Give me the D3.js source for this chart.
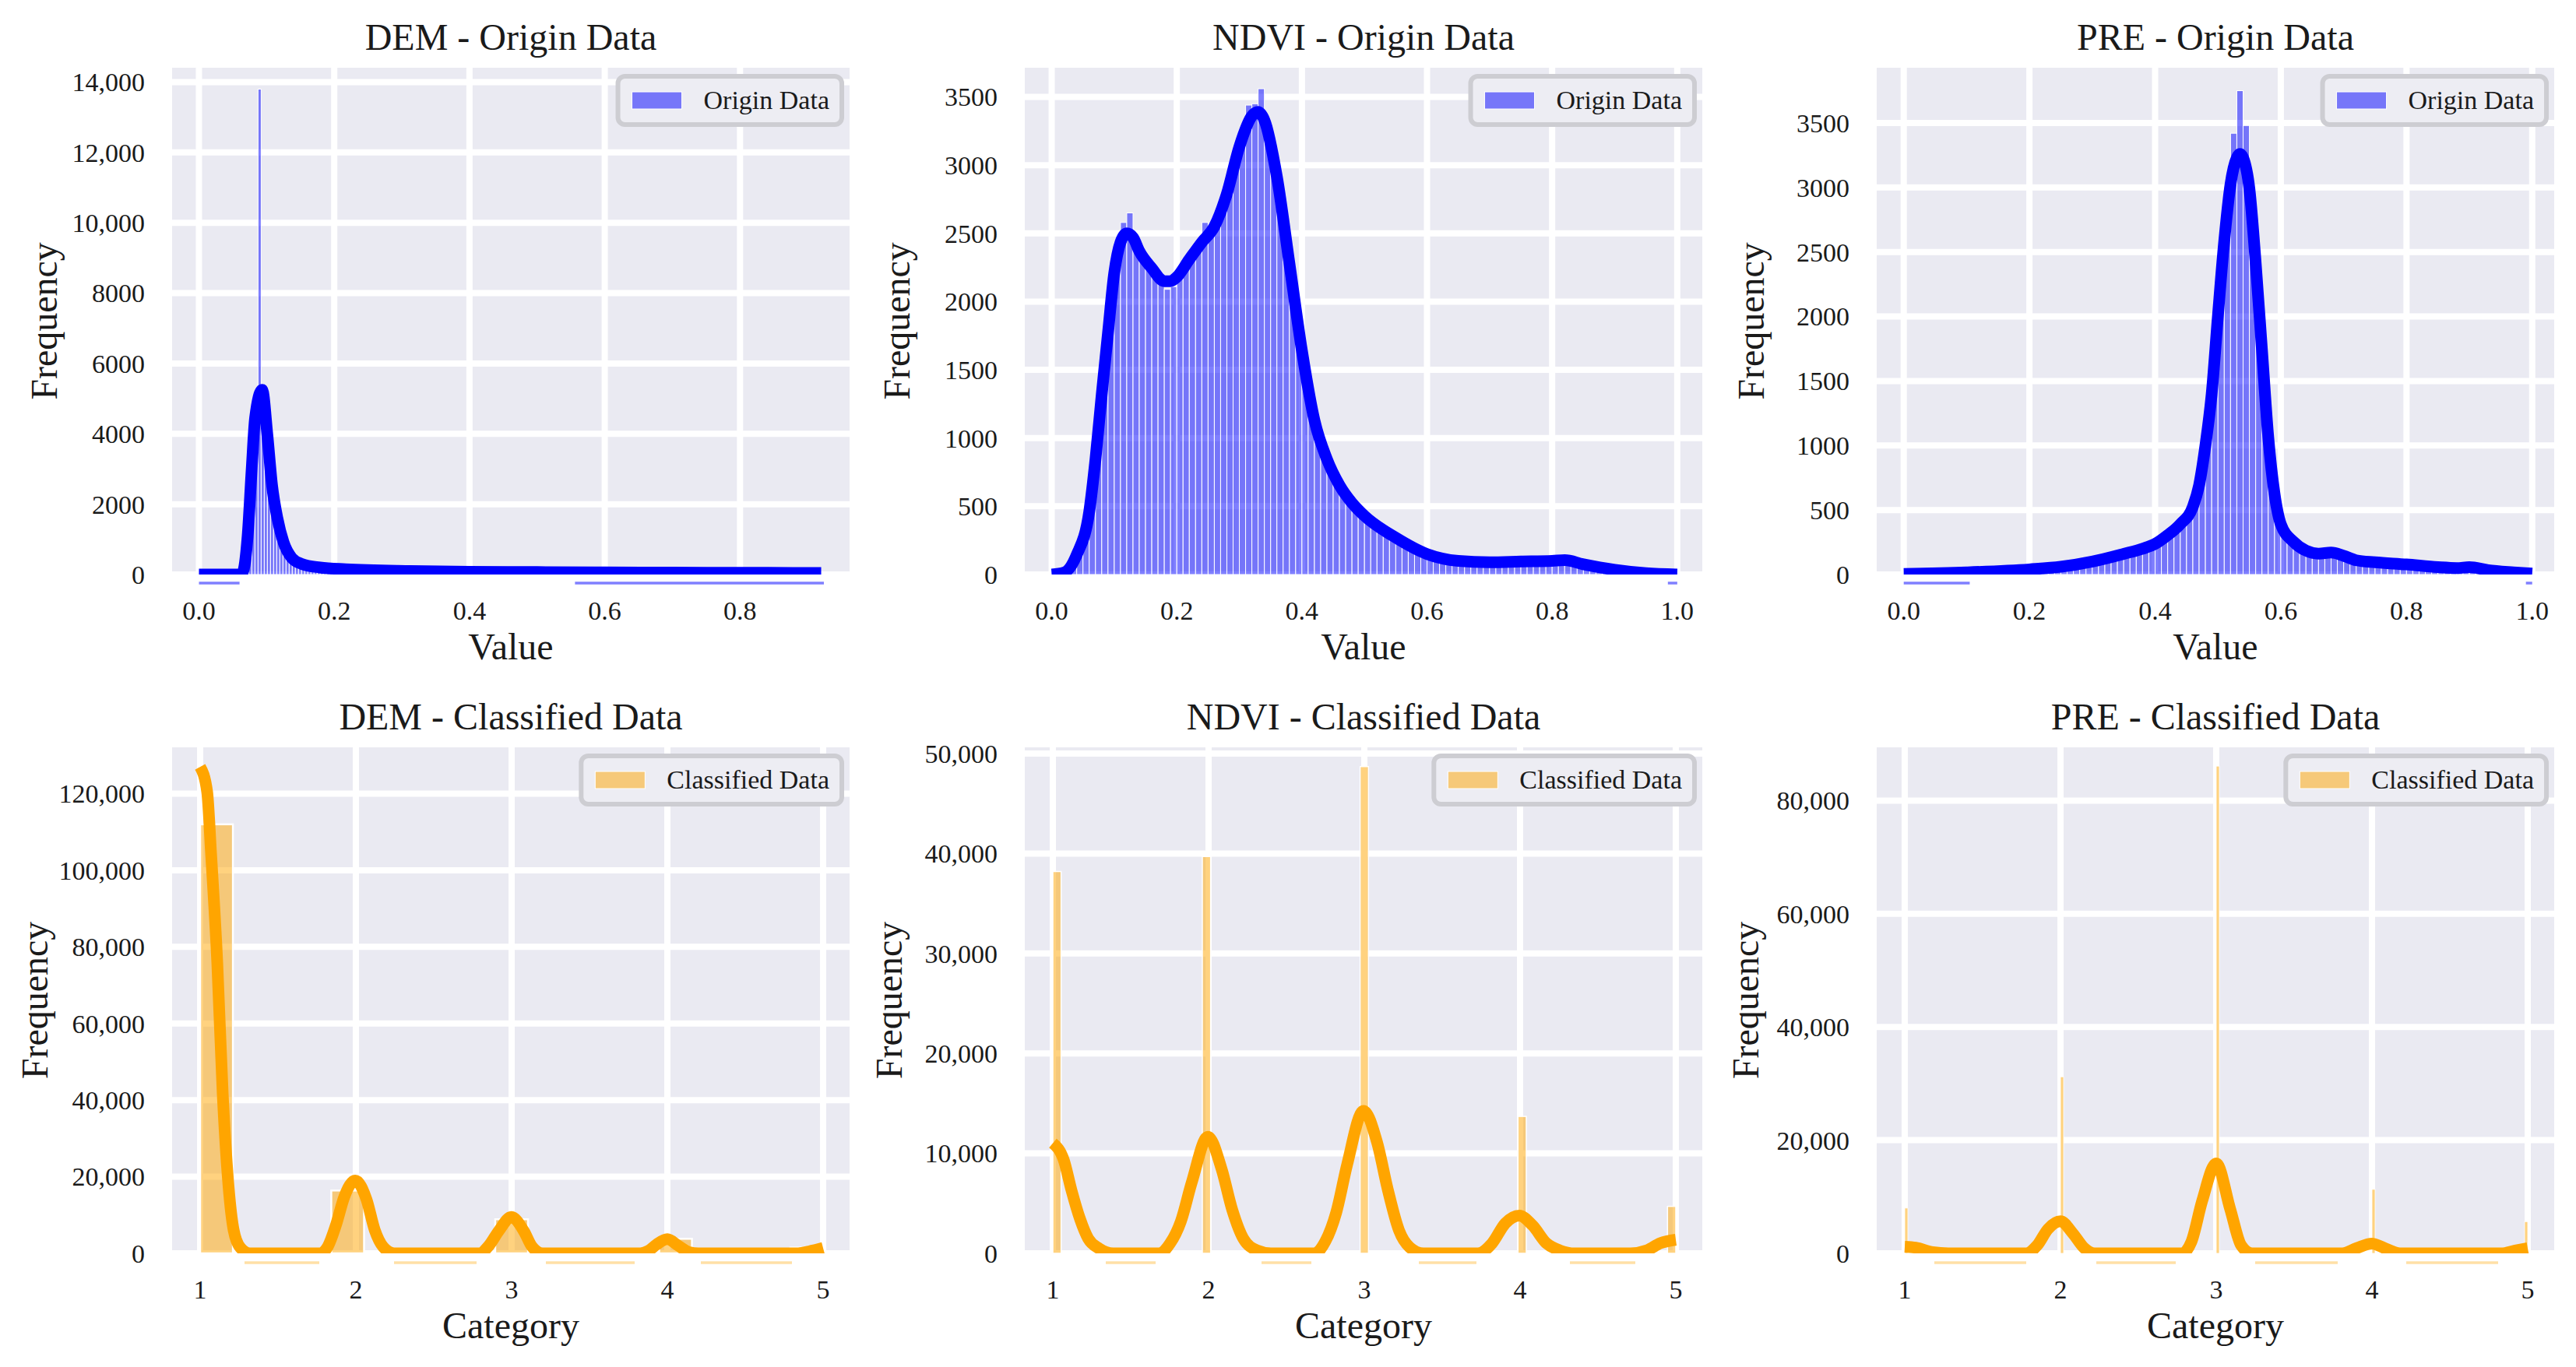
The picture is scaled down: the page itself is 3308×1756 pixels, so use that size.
<!DOCTYPE html>
<html>
<head>
<meta charset="utf-8">
<script src="https://cdn.jsdelivr.net/npm/d3@7"></script>
<style>
  body { margin: 0; background: #fff; }
  svg { display: block; }
  text { font-family: "Liberation Serif", "Times New Roman", serif; fill: #1a1a1a; }
</style>
</head>
<body>
<svg id="chart"></svg>
<script>
// ---------- data ----------
const originTicksDem = [0, 0.2, 0.4, 0.6, 0.8];
const originTicks = [0, 0.2, 0.4, 0.6, 0.8, 1.0];
const categoryTicks = [1, 2, 3, 4, 5];
const demYTicks = [0, 2000, 4000, 6000, 8000, 10000, 12000, 14000];
const ndviYTicks = [0, 500, 1000, 1500, 2000, 2500, 3000, 3500];
const preYTicks = [0, 500, 1000, 1500, 2000, 2500, 3000, 3500];
const demClassYTicks = [0, 20000, 40000, 60000, 80000, 100000, 120000];
const ndviClassYTicks = [0, 10000, 20000, 30000, 40000, 50000];
const preClassYTicks = [0, 20000, 40000, 60000, 80000];

// DEM origin histogram (bins of 0.0046 starting at 0.0598)
const demBinStart = 0.0598, demBinWidth = 0.0046;
const demCounts = [30, 380, 1200, 2700, 4000, 4700, 13800, 5200, 4300, 3300,
  2500, 1900, 1450, 1100, 850, 680, 560, 470, 410, 360,
  330, 305, 285, 270, 255, 245, 235, 225, 215, 205,
  198, 190, 184, 178, 172, 166, 161, 157, 153, 149,
  145, 141, 138, 135, 132, 129, 126, 123, 120, 118, 116];

// NDVI / PRE origin histograms (bins of 0.01 from 0 to 1)
const ndviCounts = [5, 15, 45, 100, 190, 330, 620, 1050, 1500, 1980,
  2330, 2580, 2650, 2450, 2330, 2260, 2200, 2150, 2090, 2110,
  2200, 2260, 2330, 2390, 2580, 2540, 2560, 2700, 2880, 3060,
  3220, 3440, 3450, 3560, 3300, 3060, 2760, 2420, 2060, 1760,
  1480, 1240, 1050, 900, 790, 700, 620, 555, 500, 450,
  410, 375, 345, 315, 290, 265, 240, 215, 190, 165,
  148, 135, 125, 115, 108, 102, 98, 95, 93, 92,
  92, 93, 95, 96, 97, 97, 98, 99, 100, 101,
  102, 103, 100, 92, 82, 72, 62, 53, 45, 38,
  32, 27, 22, 17, 13, 10, 7, 5, 3, 2];
const preCounts = [5, 6, 7, 8, 9, 10, 11, 12, 14, 16,
  17, 19, 21, 23, 26, 28, 31, 34, 37, 40,
  42, 45, 48, 52, 56, 60, 66, 72, 80, 90,
  98, 108, 120, 132, 146, 158, 170, 183, 195, 212,
  240, 270, 310, 350, 400, 460, 560, 850, 1200, 1700,
  2300, 2800, 3420, 3750, 3480, 2700, 2080, 1400, 840, 500,
  320, 270, 235, 205, 180, 168, 165, 172, 168, 152,
  138, 124, 112, 102, 97, 94, 90, 86, 83, 80,
  77, 74, 71, 67, 62, 57, 54, 52, 53, 55,
  55, 50, 42, 35, 29, 24, 19, 15, 11, 7];
const originBinWidth = 0.01;

// KDE curves [value, frequency]
const demKde = [[0, 0], [0.03, 0], [0.058, 0], [0.0645, 50], [0.072, 1100], [0.078, 3000],
  [0.083, 4450], [0.0935, 5250], [0.101, 4000], [0.108, 2550], [0.116, 1600], [0.125, 920],
  [0.137, 480], [0.152, 300], [0.179, 200], [0.217, 150], [0.313, 100], [0.4, 80],
  [0.5, 70], [0.6, 60], [0.7, 55], [0.8, 50], [0.92, 45]];
const ndviKde = [[0, 0], [0.02, 15], [0.04, 145], [0.06, 460], [0.07, 845], [0.08, 1320],
  [0.09, 1770], [0.1, 2210], [0.11, 2435], [0.12, 2500], [0.13, 2470], [0.14, 2370],
  [0.16, 2245], [0.18, 2150], [0.19, 2150], [0.2, 2180], [0.22, 2310], [0.24, 2435],
  [0.26, 2550], [0.28, 2790], [0.3, 3135], [0.32, 3360], [0.33, 3390], [0.34, 3330],
  [0.36, 2915], [0.38, 2280], [0.4, 1640], [0.42, 1130], [0.44, 845], [0.46, 655],
  [0.48, 525], [0.5, 430], [0.55, 270], [0.6, 150], [0.65, 100], [0.7, 90], [0.75, 95],
  [0.8, 100], [0.82, 105], [0.85, 75], [0.9, 35], [0.95, 10], [1.0, 0]];
const preKde = [[0, 5], [0.1, 17], [0.2, 40], [0.25, 60], [0.3, 100], [0.35, 160], [0.38, 200],
  [0.4, 237], [0.42, 305], [0.44, 390], [0.46, 525], [0.47, 693], [0.48, 1000], [0.49, 1400],
  [0.5, 2010], [0.51, 2585], [0.52, 3025], [0.53, 3230], [0.535, 3260], [0.54, 3230],
  [0.55, 2990], [0.56, 2415], [0.57, 1740], [0.58, 1065], [0.59, 625], [0.6, 390],
  [0.62, 255], [0.64, 185], [0.66, 162], [0.68, 170], [0.7, 145], [0.72, 110], [0.75, 95],
  [0.8, 78], [0.85, 57], [0.88, 50], [0.9, 57], [0.93, 34], [0.97, 17], [1.0, 7]];

// classified histograms [binStart, binEnd, count]
const demClassBins = [[1.0, 1.2105, 112000], [1.8421, 2.0526, 16400], [2.8947, 3.1053, 8900],
  [3.9474, 4.1579, 3800], [4.7895, 5.0, 1500]];
const ndviClassBins = [[1.0, 1.0533, 38200], [1.96, 2.0133, 39700], [2.9733, 3.0267, 48700],
  [3.9867, 4.04, 13700], [4.9467, 5.0, 4700]];
const preClassBins = [[1.0, 1.02, 8000], [2.0, 2.02, 31200], [3.0, 3.02, 86100],
  [4.0, 4.02, 11300], [4.98, 5.0, 5600]];

const demClassKde = [[1.0, 127000], [1.045, 120500], [1.07, 104500], [1.11, 75900], [1.145, 41600],
  [1.18, 18700], [1.215, 6100], [1.258, 1500], [1.32, 0], [1.5, 0], [1.77, 0], [1.82, 1800],
  [1.873, 7500], [1.926, 14800], [1.996, 19000], [2.068, 14100], [2.121, 6100], [2.175, 1700],
  [2.246, 0], [2.5, 0], [2.796, 0], [2.85, 1800], [2.92, 6000], [2.998, 9500], [3.08, 5700],
  [3.13, 1800], [3.2, 0], [3.5, 0], [3.826, 0], [3.88, 700], [3.93, 2300], [4.0, 3700],
  [4.07, 2000], [4.14, 300], [4.2, 0], [4.5, 0], [4.84, 0], [4.91, 500], [5.0, 1400]];
const ndviClassKde = [[1.0, 11020], [1.07, 9350], [1.12, 6300], [1.175, 3420], [1.227, 1480],
  [1.297, 490], [1.387, 0], [1.5, 0], [1.683, 0], [1.753, 1000], [1.822, 3200], [1.892, 7100],
  [1.996, 11670], [2.083, 8470], [2.153, 4300], [2.223, 1480], [2.311, 300], [2.4, 0], [2.5, 0],
  [2.68, 0], [2.75, 1200], [2.82, 4100], [2.89, 8900], [2.995, 14260], [3.082, 11100],
  [3.152, 6300], [3.222, 2330], [3.292, 600], [3.38, 0], [3.5, 0], [3.73, 0], [3.82, 1000],
  [3.905, 3000], [3.995, 3780], [4.08, 2800], [4.17, 1000], [4.255, 300], [4.35, 0], [4.5, 0],
  [4.71, 0], [4.815, 300], [4.9, 1010], [5.0, 1360]];
const preClassKde = [[1.0, 1170], [1.07, 1000], [1.18, 200], [1.28, 0], [1.5, 0], [1.78, 0],
  [1.85, 1400], [1.92, 4300], [2.0, 5660], [2.08, 3500], [2.15, 1000], [2.22, 0], [2.5, 0],
  [2.78, 0], [2.84, 2000], [2.91, 9300], [3.0, 15900], [3.09, 7800], [3.16, 1400], [3.23, 0],
  [3.5, 0], [3.81, 0], [3.9, 900], [4.0, 1720], [4.09, 800], [4.18, 0], [4.5, 0], [4.83, 0],
  [4.92, 500], [5.0, 900]];

// faint strokes drawn just under the axes [from, to]
const demUnder = [[0.0, 0.06], [0.556, 0.924]];
const ndviUnder = [[0.985, 1.0]];
const preUnder = [[0.0, 0.105], [0.99, 1.0]];
const demClassUnder = [[1.285, 1.765], [2.245, 2.775], [3.22, 3.79], [4.215, 4.8]];
const ndviClassUnder = [[1.34, 1.66], [2.34, 2.66], [3.35, 3.72], [4.32, 4.74]];
const preClassUnder = [[1.19, 1.78], [2.23, 2.74], [3.25, 3.78], [4.22, 4.81]];

// ---------- layout ----------
const W = 870;
const svg = d3.select('#chart').attr('width', 3308).attr('height', 1756);

const toBins = (start, w, counts) => counts.map((c, i) => [start + i * w, start + (i + 1) * w, c]);
const fmtY = v => v >= 10000 ? d3.format(',')(v) : String(v);
const fmtX1 = d3.format('.1f');
const fmtCat = d3.format('d');

const BLUE = '#0000FF', ORANGE = '#FFA500';

const panels = [
  { left: 221, top: 87, h: 651, xd: [-0.0397, 0.962], yd: [0, 14409], xt: originTicksDem, yt: demYTicks,
    fx: fmtX1, title: 'DEM - Origin Data', xl: 'Value', color: BLUE, bars: toBins(demBinStart, demBinWidth, demCounts),
    edge: 1, kde: demKde, under: demUnder, uOff: 11, leg: 'Origin Data', ylOff: 148 },
  { left: 1316, top: 87, h: 651, xd: [-0.043, 1.040], yd: [0, 3714], xt: originTicks, yt: ndviYTicks,
    fx: fmtX1, title: 'NDVI - Origin Data', xl: 'Value', color: BLUE, bars: toBins(0, originBinWidth, ndviCounts),
    edge: 1, kde: ndviKde, under: ndviUnder, uOff: 11, leg: 'Origin Data', ylOff: 148 },
  { left: 2410, top: 87, h: 651, xd: [-0.043, 1.035], yd: [0, 3928], xt: originTicks, yt: preYTicks,
    fx: fmtX1, title: 'PRE - Origin Data', xl: 'Value', color: BLUE, bars: toBins(0, originBinWidth, preCounts),
    edge: 1, kde: preKde, under: preUnder, uOff: 11, leg: 'Origin Data', ylOff: 145 },
  { left: 221, top: 960, h: 650, xd: [0.82, 5.17], yd: [0, 132092], xt: categoryTicks, yt: demClassYTicks,
    fx: fmtCat, title: 'DEM - Classified Data', xl: 'Category', color: ORANGE, bars: demClassBins,
    edge: 2.5, kde: demClassKde, under: demClassUnder, uOff: 12, leg: 'Classified Data', ylOff: 160 },
  { left: 1316, top: 960, h: 650, xd: [0.82, 5.17], yd: [0, 50623], xt: categoryTicks, yt: ndviClassYTicks,
    fx: fmtCat, title: 'NDVI - Classified Data', xl: 'Category', color: ORANGE, bars: ndviClassBins,
    edge: 1.5, kde: ndviClassKde, under: ndviClassUnder, uOff: 12, leg: 'Classified Data', ylOff: 158 },
  { left: 2410, top: 960, h: 650, xd: [0.82, 5.17], yd: [0, 89421], xt: categoryTicks, yt: preClassYTicks,
    fx: fmtCat, title: 'PRE - Classified Data', xl: 'Category', color: ORANGE, bars: preClassBins,
    edge: 0.8, kde: preClassKde, under: preClassUnder, uOff: 12, leg: 'Classified Data', ylOff: 152 }
];

panels.forEach((p, i) => {
  const bottom = p.top + p.h;
  const x = d3.scaleLinear().domain(p.xd).range([p.left, p.left + W]);
  const y = d3.scaleLinear().domain(p.yd).range([bottom, p.top]);
  const g = svg.append('g');
  const fill = d3.color(p.color).copy({ opacity: 0.5 }) + '';

  g.append('rect').attr('x', p.left).attr('y', p.top).attr('width', W).attr('height', p.h).attr('fill', '#EAEAF2');

  g.append('clipPath').attr('id', 'clip' + i)
    .append('rect').attr('x', p.left).attr('y', p.top).attr('width', W).attr('height', p.h);

  // grid (clipped to the axes area like matplotlib)
  const grid = g.append('g').attr('clip-path', `url(#clip${i})`);
  grid.append('g').selectAll('line').data(p.xt).join('line')
    .attr('x1', d => x(d)).attr('x2', d => x(d)).attr('y1', p.top).attr('y2', bottom)
    .attr('stroke', '#fff').attr('stroke-width', 8);
  grid.append('g').selectAll('line').data(p.yt).join('line')
    .attr('x1', p.left).attr('x2', p.left + W).attr('y1', d => y(d)).attr('y2', d => y(d))
    .attr('stroke', '#fff').attr('stroke-width', 8);

  const plot = g.append('g').attr('clip-path', `url(#clip${i})`);

  plot.append('g').selectAll('rect').data(p.bars).join('rect')
    .attr('x', d => x(d[0])).attr('width', d => x(d[1]) - x(d[0]))
    .attr('y', d => y(d[2])).attr('height', d => y(0) - y(d[2]))
    .attr('fill', fill).attr('stroke', '#fff').attr('stroke-width', p.edge);

  plot.append('path').datum(p.kde)
    .attr('d', d3.line().x(d => x(d[0])).y(d => y(d[1])).curve(d3.curveMonotoneX))
    .attr('fill', 'none').attr('stroke', p.color).attr('stroke-width', 15)
    .attr('stroke-linejoin', 'round').attr('stroke-linecap', 'butt');

  // faint strokes just below the axes area
  g.append('g').selectAll('line').data(p.under).join('line')
    .attr('x1', d => x(d[0])).attr('x2', d => x(d[1]))
    .attr('y1', y(0) + p.uOff).attr('y2', y(0) + p.uOff)
    .attr('stroke', p.color).attr('stroke-opacity', p.color === BLUE ? 0.5 : 0.35).attr('stroke-width', 3.5);

  // tick labels
  g.append('g').selectAll('text').data(p.xt).join('text')
    .attr('x', d => x(d)).attr('y', bottom + 58)
    .attr('text-anchor', 'middle').attr('font-size', 34).text(p.fx);
  g.append('g').selectAll('text').data(p.yt).join('text')
    .attr('x', p.left - 35).attr('y', d => y(d)).attr('dy', '0.35em')
    .attr('text-anchor', 'end').attr('font-size', 34).text(fmtY);

  // titles and axis labels
  g.append('text').attr('x', p.left + W / 2).attr('y', p.top - 23)
    .attr('text-anchor', 'middle').attr('font-size', 48).text(p.title);
  g.append('text').attr('x', p.left + W / 2).attr('y', bottom + 109)
    .attr('text-anchor', 'middle').attr('font-size', 48).text(p.xl);
  g.append('text')
    .attr('transform', `translate(${p.left - p.ylOff},${p.top + p.h / 2}) rotate(-90)`)
    .attr('text-anchor', 'middle').attr('font-size', 48).text('Frequency');

  // legend
  const leg = g.append('g');
  const box = leg.append('rect');
  const label = leg.append('text').attr('font-size', 34).text(p.leg);
  const tw = label.node().getComputedTextLength();
  const bw = 110 + tw + 16, bh = 62;
  const bx = p.left + W - 10 - bw, by = p.top + 11;
  box.attr('x', bx).attr('y', by).attr('width', bw).attr('height', bh).attr('rx', 9)
    .attr('fill', '#EDEDF3').attr('stroke', '#CDCDD2').attr('stroke-width', 6);
  leg.append('rect').attr('x', bx + 18).attr('y', by + 20).attr('width', 64).attr('height', 22)
    .attr('fill', fill).attr('stroke', '#fff').attr('stroke-width', 1);
  label.attr('x', bx + 110).attr('y', by + 42);
});
</script>
</body>
</html>
